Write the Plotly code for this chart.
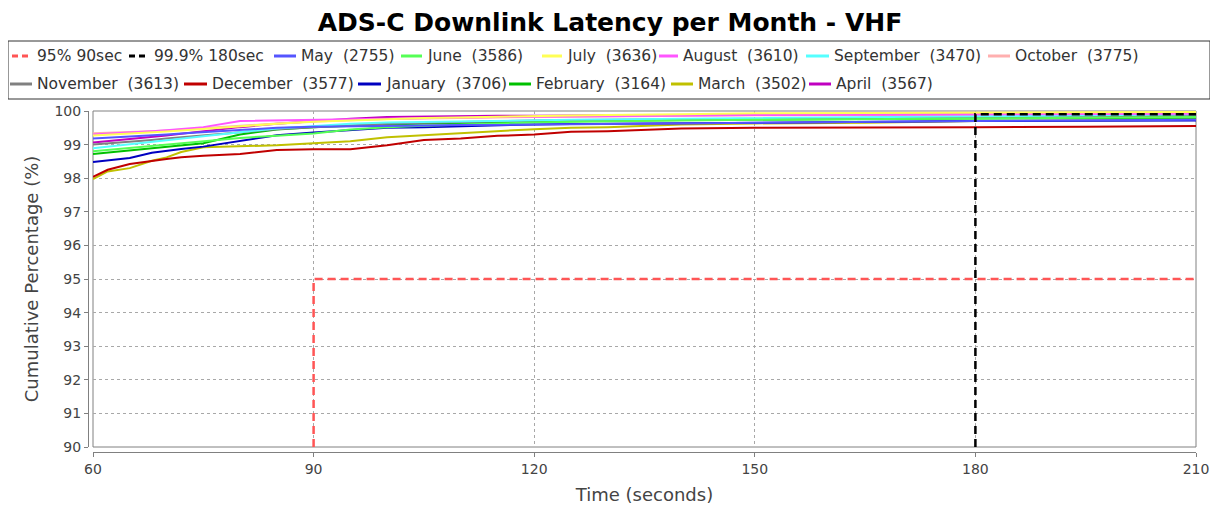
import plotly.graph_objects as go

# ---------------- data ----------------
TIME = [60, 62, 65, 68, 70, 72, 75, 80, 85, 90, 95, 100, 105, 110, 115, 120,
        125, 130, 140, 150, 165, 180, 195, 210]

MAY = [99.18, 99.20, 99.23, 99.27, 99.30, 99.33, 99.37, 99.43, 99.50, 99.53, 99.55, 99.56,
       99.57, 99.58, 99.59, 99.60, 99.61, 99.62, 99.64, 99.66, 99.68, 99.70, 99.72, 99.74]
JUNE = [98.80, 98.84, 98.90, 98.98, 99.02, 99.06, 99.12, 99.20, 99.26, 99.33, 99.45, 99.52,
        99.56, 99.60, 99.63, 99.66, 99.68, 99.70, 99.72, 99.74, 99.76, 99.78, 99.80, 99.82]
JULY = [99.27, 99.29, 99.32, 99.36, 99.39, 99.42, 99.47, 99.55, 99.62, 99.68, 99.72, 99.76,
        99.79, 99.81, 99.83, 99.85, 99.87, 99.88, 99.90, 99.93, 99.94, 99.96, 99.96, 99.97]
AUGUST = [99.30, 99.32, 99.35, 99.40, 99.43, 99.47, 99.52, 99.70, 99.72, 99.74, 99.76, 99.78,
          99.80, 99.81, 99.82, 99.83, 99.84, 99.85, 99.86, 99.88, 99.89, 99.90, 99.91, 99.92]
SEPTEMBER = [98.89, 98.94, 99.00, 99.08, 99.13, 99.18, 99.25, 99.37, 99.48, 99.56, 99.62, 99.66,
             99.68, 99.70, 99.71, 99.72, 99.74, 99.75, 99.77, 99.79, 99.82, 99.86, 99.88, 99.90]
OCTOBER = [99.34, 99.35, 99.37, 99.40, 99.42, 99.45, 99.49, 99.56, 99.63, 99.69, 99.73, 99.76,
           99.78, 99.80, 99.81, 99.82, 99.83, 99.84, 99.86, 99.87, 99.88, 99.90, 99.91, 99.92]
NOVEMBER = [99.00, 99.03, 99.08, 99.14, 99.18, 99.22, 99.28, 99.38, 99.46, 99.52, 99.58, 99.62,
            99.65, 99.68, 99.70, 99.72, 99.73, 99.74, 99.76, 99.78, 99.80, 99.82, 99.84, 99.86]
DECEMBER = [98.04, 98.25, 98.42, 98.52, 98.57, 98.62, 98.67, 98.72, 98.84, 98.86, 98.86, 98.98,
            99.14, 99.18, 99.26, 99.30, 99.38, 99.40, 99.48, 99.50, 99.50, 99.52, 99.53, 99.55]
JANUARY = [98.48, 98.52, 98.60, 98.76, 98.82, 98.87, 98.94, 99.10, 99.28, 99.36, 99.44, 99.50,
           99.52, 99.55, 99.57, 99.60, 99.61, 99.62, 99.64, 99.66, 99.68, 99.70, 99.71, 99.72]
FEBRUARY = [98.72, 98.76, 98.82, 98.90, 98.94, 98.98, 99.04, 99.30, 99.45, 99.52, 99.57, 99.60,
            99.63, 99.65, 99.67, 99.68, 99.70, 99.71, 99.73, 99.75, 99.76, 99.78, 99.79, 99.80]
MARCH = [97.97, 98.20, 98.30, 98.52, 98.62, 98.78, 98.92, 98.94, 98.98, 99.04, 99.10, 99.22,
         99.28, 99.35, 99.42, 99.46, 99.50, 99.52, 99.60, 99.63, 99.65, 99.70, 99.72, 99.75]
APRIL = [99.06, 99.10, 99.15, 99.22, 99.27, 99.32, 99.40, 99.52, 99.62, 99.70, 99.77, 99.82,
         99.84, 99.85, 99.86, 99.86, 99.87, 99.87, 99.88, 99.89, 99.90, 99.91, 99.92, 99.92]

MONTHS = ["May", "June", "July", "August", "September", "October",
          "November", "December", "January", "February", "March", "April"]
COUNTS = [2755, 3586, 3636, 3610, 3470, 3775, 3613, 3577, 3706, 3164, 3502, 3567]
SERIES = [MAY, JUNE, JULY, AUGUST, SEPTEMBER, OCTOBER,
          NOVEMBER, DECEMBER, JANUARY, FEBRUARY, MARCH, APRIL]

T95_NAME = "95% 90sec"
T95_TIME = [90, 90, 210]
T95_PCT = [90, 95, 95]
T999_NAME = "99.9% 180sec"
T999_TIME = [180, 180, 210]
T999_PCT = [90, 99.9, 99.9]

X_TICKS = [60, 90, 120, 150, 180, 210]
Y_TICKS = [90, 91, 92, 93, 94, 95, 96, 97, 98, 99, 100]

# ---------------- styles ----------------
MONTH_COLORS = ["#5555ff", "#55ff55", "#ffff55", "#ff55ff", "#55ffff", "#ffafaf",
                "#808080", "#c00000", "#0000c0", "#00c000", "#c0c000", "#c000c0"]
T95_COLOR = "#ff5555"
T999_COLOR = "#000000"
FONT = "DejaVu Sans"

# window is 1218x510 but the page body has an 8px margin
BODY = 8
W, H = 1218 - BODY, 510 - BODY

# layout positions measured on the reference (window pixels)
AXIS_LEFT_REF, PLOT_RIGHT_REF, PLOT_TOP_REF, AXIS_BOTTOM_REF = 88, 1196, 111, 452
ML = AXIS_LEFT_REF - BODY
MR = (W + BODY) - PLOT_RIGHT_REF
MT = PLOT_TOP_REF - BODY
MB = (H + BODY) - AXIS_BOTTOM_REF
OFF = 5
PW = W - ML - MR
PH = H - MT - MB


def px_x(px):
    return (px - BODY - ML) / PW


def px_y(py):
    return (H - MB - (py - BODY)) / PH


fig = go.Figure()

# JFreeChart draws series in reverse order (first series on top)
for name, vals, col in reversed(list(zip(MONTHS, SERIES, MONTH_COLORS))):
    fig.add_trace(go.Scatter(x=TIME, y=vals, mode="lines", name=name,
                             line=dict(color=col, width=2), showlegend=False))

fig.add_trace(go.Scatter(x=T999_TIME, y=T999_PCT, mode="lines", name=T999_NAME,
                         line=dict(color=T999_COLOR, width=2.5, dash="8px,5px"),
                         showlegend=False))
fig.add_trace(go.Scatter(x=T95_TIME, y=T95_PCT, mode="lines", name=T95_NAME,
                         line=dict(color=T95_COLOR, width=2.5, dash="8px,5px"),
                         showlegend=False))

shapes = []
annotations = []

# plot border
shapes.append(dict(type="rect", xref="x domain", yref="y domain", x0=0, x1=1, y0=0, y1=1,
                   line=dict(color="#808080", width=1), layer="below"))

# legend box
shapes.append(dict(type="rect", xref="paper", yref="paper",
                   x0=px_x(8), x1=px_x(1210), y0=px_y(99), y1=px_y(41),
                   line=dict(color="#333333", width=1), fillcolor="rgba(0,0,0,0)"))

legend_labels = [T95_NAME, T999_NAME] + [f"{m}\u00a0\u00a0({c})" for m, c in zip(MONTHS, COUNTS)]
legend_colors = [T95_COLOR, T999_COLOR] + MONTH_COLORS
legend_dash = ["6px,4px", "6px,4px"] + ["solid"] * 12
# (symbol start, symbol end, text start, row y) in reference window pixels
LEGEND_POS = [(12, 32, 35, 56), (129, 149, 152, 56), (274, 296, 299, 56), (401, 422, 425, 56),
              (542, 562, 565, 56), (659, 678, 681, 56), (806, 829, 832, 56), (988, 1010, 1013, 56),
              (10, 32, 35, 84), (184, 207, 210, 84), (358, 381, 384, 84), (509, 531, 534, 84),
              (671, 693, 696, 84), (809, 831, 834, 84)]

for lab, col, dsh, (s0, s1, tx, ry) in zip(legend_labels, legend_colors, legend_dash, LEGEND_POS):
    shapes.append(dict(type="line", xref="paper", yref="paper",
                       x0=px_x(s0), x1=px_x(s1), y0=px_y(ry), y1=px_y(ry),
                       line=dict(color=col, width=3, dash=dsh)))
    annotations.append(dict(text=lab, xref="paper", yref="paper", x=px_x(tx), y=px_y(ry),
                            xanchor="left", yanchor="middle", showarrow=False,
                            font=dict(family=FONT, size=15.5, color="#333333")))

axis_common = dict(
    showline=True, linecolor="#808080", linewidth=1,
    ticks="outside", ticklen=4, tickcolor="#808080",
    showgrid=True, gridcolor="#a8a8a8", gridwidth=1, griddash="3px,3px",
    zeroline=False, automargin=False,
    tickfont=dict(family=FONT, size=14, color="#444444"),
    anchor="free", position=0,
)

fig.update_layout(
    width=W, height=H,
    margin=dict(l=ML, r=MR, t=MT, b=MB, pad=0, autoexpand=False),
    paper_bgcolor="white", plot_bgcolor="white",
    title=dict(text="<b>ADS-C Downlink Latency per Month - VHF</b>",
               font=dict(family=FONT, size=25, color="black"),
               x=(610 - BODY) / W, xref="container", xanchor="center",
               y=1 - (22 - BODY) / H, yref="container", yanchor="middle"),
    xaxis=dict(domain=[OFF / PW, 1], range=[60, 210], tickvals=X_TICKS,
               title=dict(text="Time (seconds)", standoff=12,
                          font=dict(family=FONT, size=18, color="#444444")),
               **axis_common),
    yaxis=dict(domain=[OFF / PH, 1], range=[90, 100], tickvals=Y_TICKS,
               title=dict(text="Cumulative Percentage (%)", standoff=10,
                          font=dict(family=FONT, size=18, color="#444444")),
               **axis_common),
    shapes=shapes,
    annotations=annotations,
    showlegend=False,
)

fig.write_html("out.html")
